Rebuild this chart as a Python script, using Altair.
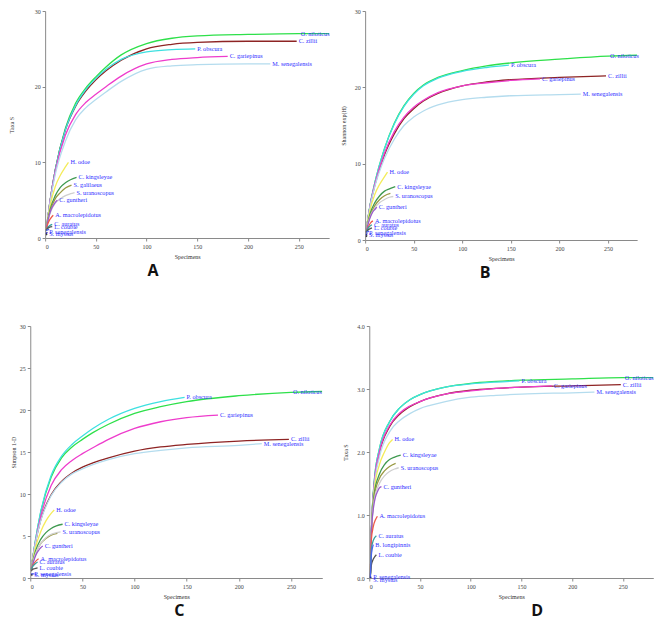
import altair as alt
import pandas as pd

# ---------------- data ----------------
SPECIES = ["O. niloticus", "C. zillii", "P. obscura", "C. gariepinus", "M. senegalensis",
           "H. odoe", "C. kingsleyae", "S. galilaeus", "S. uranoscopus", "C. guntheri",
           "A. macrolepidotus", "C. auratus", "L. coubie", "B. longipinnis",
           "P. senegalensis", "S. mystus"]
COLORS = ["#2ee04a", "#8e2424", "#3ee0e0", "#ee3ccc", "#b4dcee",
          "#f4ec5a", "#3f9a50", "#9a9a44", "#cfcfcf", "#9a5acc",
          "#ee5a4a", "#3aa2a2", "#555555", "#4a66ee", "#2a2aaa", "#333333"]

# specimens (x) sampled for each species
X_NIL = [1, 2, 5, 10, 20, 30, 40, 50, 60, 75, 100, 125, 150, 200, 250, 280]
X_ZIL = [1, 2, 5, 10, 20, 30, 40, 50, 60, 75, 100, 125, 150, 200, 248]
X_OBS = [1, 2, 5, 10, 20, 30, 40, 50, 60, 75, 100, 125, 148]
X_GAR = [1, 2, 5, 10, 20, 30, 40, 50, 60, 75, 100, 125, 150, 180]
X_SEN = [1, 2, 5, 10, 20, 30, 40, 50, 60, 75, 100, 125, 150, 200, 222]
X_ODO = [1, 2, 5, 10, 15, 20, 23]
X_KIN = [1, 2, 5, 10, 15, 20, 25, 31]
X_GAL = [1, 2, 5, 10, 15, 20, 26]
X_URA = [1, 2, 5, 10, 15, 20, 25, 29]
X_GUN = [1, 2, 4, 6, 8, 10, 12]
X_MAC = [1, 2, 4, 6, 8]
X_AUR = [1, 2, 4, 7]
X_COU = [1, 2, 4, 7]
X_LON = [1, 2, 3, 4]
X_PSE = [1, 2]
X_MYS = [1, 2]
X_ALL = [X_NIL, X_ZIL, X_OBS, X_GAR, X_SEN, X_ODO, X_KIN, X_GAL, X_URA, X_GUN,
         X_MAC, X_AUR, X_COU, X_LON, X_PSE, X_MYS]

# Panel A - Taxa S
Y_A = [
    [1, 2, 5, 9, 14.5, 17.8, 19.8, 21.3, 22.6, 24.2, 25.7, 26.4, 26.7, 26.9, 27, 27],
    [1, 2, 5, 9, 14.3, 17.4, 19.4, 20.9, 22.1, 23.5, 25, 25.6, 25.85, 26, 26],
    [1, 2, 5, 9, 14.3, 17.5, 19.6, 21.1, 22.3, 23.6, 24.6, 24.9, 25],
    [1, 2, 5, 8.8, 13.6, 16.3, 17.9, 19, 20, 21.4, 23, 23.6, 23.85, 24],
    [1, 2, 4.8, 8.4, 12.8, 15.6, 17.2, 18.3, 19.3, 20.7, 22.3, 22.75, 22.9, 23, 23],
    [1, 2, 4.3, 6.8, 8.3, 9.4, 10],
    [1, 1.9, 3.8, 5.6, 6.7, 7.3, 7.7, 8],
    [1, 1.9, 3.6, 5.2, 6, 6.6, 7],
    [1, 1.8, 3.3, 4.6, 5.2, 5.6, 5.85, 6],
    [1, 1.8, 3, 3.8, 4.3, 4.7, 5],
    [1, 1.6, 2.3, 2.7, 3],
    [1, 1.3, 1.6, 1.8],
    [1, 1.2, 1.4, 1.5],
    [1, 1.05, 1.1, 1.1],
    [0.5, 0.8],
    [0.4, 0.5],
]
# Panel B - Shannon exp(H)
Y_B = [
    [1, 2, 4.5, 7.5, 12, 15.3, 17.6, 19.2, 20.3, 21.3, 22.2, 22.8, 23.2, 23.7, 24.1, 24.2],
    [1, 2, 4.4, 7.2, 11.2, 13.9, 15.9, 17.2, 18.2, 19.2, 20.2, 20.7, 21, 21.3, 21.5],
    [1, 2, 4.5, 7.5, 12, 15.2, 17.5, 19.1, 20.2, 21.2, 22.1, 22.6, 22.9],
    [1, 2, 4.4, 7.3, 11.4, 14.2, 16.1, 17.4, 18.3, 19.3, 20.2, 20.6, 20.9, 21.1],
    [1, 2, 4.3, 7, 10.7, 13.2, 15, 16.1, 16.9, 17.7, 18.4, 18.7, 18.9, 19.05, 19.1],
    [1, 1.9, 3.9, 6, 7.3, 8.3, 8.9],
    [1, 1.8, 3.4, 4.9, 5.8, 6.4, 6.7, 7],
    [1, 1.7, 3.1, 4.5, 5.3, 5.8, 6.1],
    [1, 1.7, 3, 4.2, 4.9, 5.3, 5.6, 5.7],
    [1, 1.6, 2.5, 3.2, 3.7, 4, 4.3],
    [1, 1.4, 1.9, 2.3, 2.5],
    [1, 1.3, 1.7, 2],
    [1, 1.2, 1.4, 1.6],
    [1, 1.05, 1.1, 1.15],
    [0.6, 0.9],
    [0.4, 0.6],
]
# Panel C - Simpson 1-D
Y_C = [
    [1, 2, 4.5, 7.8, 12, 14.3, 15.6, 16.5, 17.3, 18.3, 19.6, 20.4, 21, 21.7, 22.1, 22.2],
    [1, 2, 4.2, 6.9, 9.9, 11.5, 12.5, 13.2, 13.7, 14.3, 15.1, 15.6, 15.9, 16.3, 16.5],
    [1, 2, 4.5, 7.9, 12.2, 14.5, 15.9, 16.9, 17.8, 18.9, 20.2, 21, 21.5],
    [1, 2, 4.3, 7.3, 11, 12.9, 14, 14.8, 15.5, 16.5, 17.8, 18.6, 19.1, 19.4],
    [1, 2, 4.2, 6.8, 9.8, 11.4, 12.4, 13, 13.5, 14.1, 14.8, 15.2, 15.5, 15.8, 16],
    [1, 1.8, 3.6, 5.5, 6.8, 7.7, 8.1],
    [1, 1.7, 3.2, 4.6, 5.4, 5.9, 6.2, 6.4],
    [1, 1.6, 2.9, 4.1, 4.7, 5.1, 5.3],
    [1, 1.6, 2.9, 4.1, 4.8, 5.2, 5.4, 5.5],
    [1, 1.5, 2.3, 2.9, 3.3, 3.6, 3.8],
    [1, 1.4, 1.8, 2.1, 2.3],
    [1, 1.3, 1.6, 1.9],
    [0.8, 1, 1.1, 1.2],
    [0.5, 0.5, 0.5, 0.5],
    [0.4, 0.5],
    [0.3, 0.4],
]
# Panel D - Shannon H
Y_D = [
    [0, 0.69, 1.55, 2.05, 2.48, 2.7, 2.83, 2.91, 2.97, 3.03, 3.09, 3.12, 3.14, 3.16, 3.18, 3.18],
    [0, 0.69, 1.5, 1.98, 2.4, 2.6, 2.72, 2.8, 2.86, 2.92, 2.98, 3.01, 3.03, 3.05, 3.07],
    [0, 0.69, 1.55, 2.05, 2.48, 2.7, 2.83, 2.91, 2.97, 3.03, 3.08, 3.11, 3.13],
    [0, 0.69, 1.52, 2, 2.42, 2.62, 2.73, 2.8, 2.86, 2.92, 2.97, 3.01, 3.03, 3.05],
    [0, 0.69, 1.45, 1.92, 2.32, 2.5, 2.61, 2.69, 2.74, 2.8, 2.87, 2.9, 2.92, 2.94, 2.95],
    [0, 0.69, 1.4, 1.8, 2.0, 2.15, 2.2],
    [0, 0.69, 1.35, 1.65, 1.8, 1.88, 1.92, 1.95],
    [0, 0.69, 1.3, 1.58, 1.7, 1.77, 1.82],
    [0, 0.69, 1.25, 1.5, 1.62, 1.69, 1.73, 1.75],
    [0, 0.69, 1.1, 1.28, 1.37, 1.43, 1.45],
    [0, 0.6, 0.82, 0.92, 0.98],
    [0, 0.45, 0.6, 0.67],
    [0, 0.2, 0.3, 0.37],
    [0, 0.35, 0.47, 0.53],
    [0, 0.02],
    [0, -0.03],
]

LABELS_A = ["O. niloticus", "C. zillii", "P. obscura", "C. gariepinus", "M. senegalensis",
            "H. odoe", "C. kingsleyae", "S. galilaeus", "S. uranoscopus", "C. guntheri",
            "A. macrolepidotus", "C. auratus", "L. coubie", "P. senegalensis", "S. mystus"]
LABELS_BC = ["O. niloticus", "C. zillii", "P. obscura", "C. gariepinus", "M. senegalensis",
             "H. odoe", "C. kingsleyae", "S. uranoscopus", "C. guntheri",
             "A. macrolepidotus", "C. auratus", "L. coubie", "P. senegalensis", "S. mystus"]
LABELS_D = LABELS_BC + ["B. longipinnis"]
LABEL_AT = {"O. niloticus": 250}

X_TICKS = [0, 50, 100, 150, 200, 250]
Y_TICKS_S = [0, 5, 10, 15, 20, 25, 30]
Y_TICKS_H = [0, 0.5, 1.0, 1.5, 2.0, 2.5, 3.0, 3.5, 4.0]

SERIF = "Liberation Serif"


def panel(ys, labelled, ytitle, ydom, yticks, yfmt, w, h, letter, ldx, tpad):
    rows, lab = [], []
    for i, (sp, xs, yv) in enumerate(zip(SPECIES, X_ALL, ys)):
        for xv, yy in zip(xs, yv):
            rows.append({"species": sp, "x": xv, "y": yy, "o": i})
        if sp in labelled:
            lim = LABEL_AT.get(sp, 1e9)
            pts = [(xv, yy) for xv, yy in zip(xs, yv) if xv <= lim]
            lab.append({"species": sp, "x": pts[-1][0], "y": pts[-1][1]})
    df = pd.DataFrame(rows)
    ldf = pd.DataFrame(lab)
    xenc = alt.X("x:Q", scale=alt.Scale(domain=[0, 280], nice=False),
                 axis=alt.Axis(values=X_TICKS, title="Specimens"))
    yenc = alt.Y("y:Q", scale=alt.Scale(domain=ydom, nice=False),
                 axis=alt.Axis(values=yticks, format=yfmt, title=ytitle, titlePadding=tpad))
    lines = alt.Chart(df).mark_line(strokeWidth=1.3, interpolate="monotone", clip=True).encode(
        x=xenc, y=yenc,
        color=alt.Color("species:N", scale=alt.Scale(domain=SPECIES, range=COLORS), legend=None),
        order=alt.Order("x:Q"),
    )
    texts = alt.Chart(ldf).mark_text(align="left", baseline="middle", dx=2, font=SERIF,
                                     fontSize=6.2, color="#2f2fff").encode(
        x="x:Q", y="y:Q", text="species:N")
    return alt.layer(lines, texts).properties(
        width=w, height=h,
        title=alt.TitleParams(letter, orient="bottom", anchor="middle", fontSize=16,
                              font="Open Sans", fontWeight="bold", color="#111111",
                              dx=ldx, offset=4),
    )


pA = panel(Y_A, LABELS_A, "Taxa S", [0, 30], Y_TICKS_S, "d", 284, 227, "A", -34, 20)
pB = panel(Y_B, LABELS_BC, "Shannon exp(H)", [0, 30], Y_TICKS_S, "d", 272, 229, "B", -16, 8)
pC = panel(Y_C, LABELS_BC, "Simpson 1-D", [0, 30], Y_TICKS_S, "d", 292, 252, "C", 3, 3)
pD = panel(Y_D, LABELS_D, "Taxa S", [0, 4], Y_TICKS_H, ".1f", 284, 252, "D", 26, 8)

row1 = alt.hconcat(pA, pB, spacing=10)
row2 = alt.hconcat(pC, pD, spacing=20)

chart = alt.vconcat(row1, row2, spacing=42, center=True).properties(
    padding={"left": 0, "top": 0, "right": 0, "bottom": 0},
).configure_view(stroke=None).configure_axis(
    grid=False,
    domainColor="#8a8a8a",
    tickColor="#8a8a8a",
    tickSize=3,
    labelFont=SERIF,
    labelFontSize=6,
    labelColor="#444444",
    labelPadding=2,
    titleFont=SERIF,
    titleFontSize=6,
    titleFontWeight="normal",
    titleColor="#333333",
).configure_axisX(titlePadding=4)

chart.save("out.html", embed_options={"renderer": "svg", "actions": False})
